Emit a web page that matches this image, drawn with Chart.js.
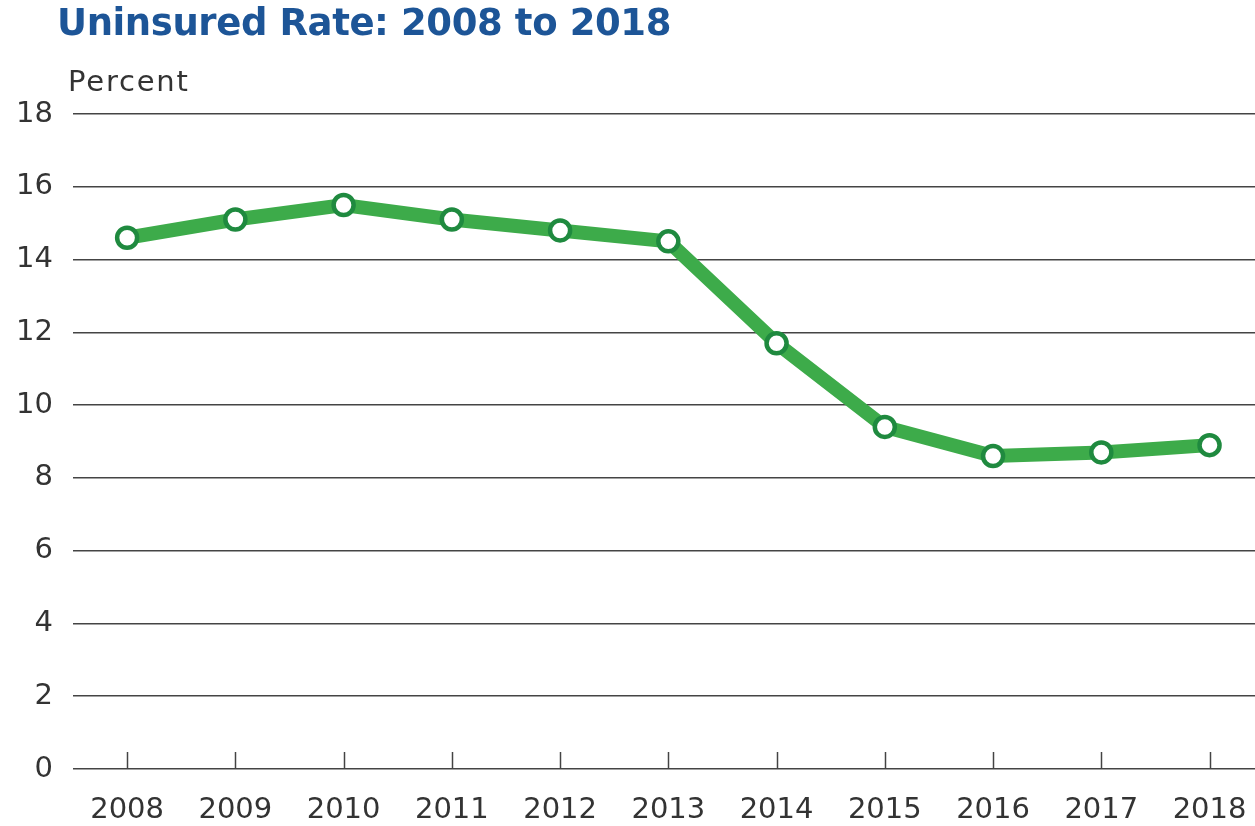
<!DOCTYPE html>
<html>
<head>
<meta charset="utf-8">
<script src="https://cdn.jsdelivr.net/npm/chart.js@4"></script>
<style>
  html, body { margin: 0; padding: 0; background: #fff; }
  #wrap { position: relative; width: 1255px; height: 826px; }
  #title { position: absolute; left: 57px; top: 1px; font-family: "DejaVu Sans", sans-serif; font-weight: 700; font-size: 37px; color: #1d5597; white-space: nowrap; letter-spacing: -0.4px; line-height: normal; }
  #unit { position: absolute; left: 68px; top: 64px; font-family: "DejaVu Sans", sans-serif; font-size: 29px; color: #333; letter-spacing: 1.8px; line-height: normal; }
  canvas { position: absolute; left: 0; top: 0; }
</style>
</head>
<body>
<div id="wrap">
  <canvas id="c" width="1255" height="826"></canvas>
  <div id="title">Uninsured Rate: 2008 to 2018</div>
  <div id="unit">Percent</div>
</div>
<script>
const years = [2008, 2009, 2010, 2011, 2012, 2013, 2014, 2015, 2016, 2017, 2018];
const uninsuredRate = [14.6, 15.1, 15.5, 15.1, 14.8, 14.5, 11.7, 9.4, 8.6, 8.7, 8.9];
const yTicks = [0, 2, 4, 6, 8, 10, 12, 14, 16, 18];

const tickMarks = {
  id: 'tickMarks',
  afterDraw(chart) {
    const x = chart.scales.x, ctx = chart.ctx, b = chart.chartArea.bottom;
    ctx.save();
    ctx.strokeStyle = '#444';
    ctx.lineWidth = 1.5;
    years.forEach(v => {
      const px = Math.round(x.getPixelForValue(v)) + 0.5;
      ctx.beginPath();
      ctx.moveTo(px, b - 17);
      ctx.lineTo(px, b);
      ctx.stroke();
    });
    ctx.restore();
  }
};

new Chart(document.getElementById('c'), {
  type: 'line',
  data: {
    datasets: [{
      data: years.map((y, i) => ({ x: y, y: uninsuredRate[i] })),
      borderColor: '#3dab4a',
      borderWidth: 14,
      tension: 0,
      pointRadius: 10,
      pointBorderWidth: 4.5,
      pointBackgroundColor: '#ffffff',
      pointBorderColor: '#1f8a3f',
      clip: false
    }]
  },
  options: {
    responsive: false,
    animation: false,
    layout: { autoPadding: false, padding: { top: 114, left: 0, right: 0, bottom: 0 } },
    plugins: { legend: { display: false }, tooltip: { enabled: false }, title: { display: false } },
    scales: {
      x: {
        type: 'linear',
        min: 2007.5,
        max: 2018.42,
        afterBuildTicks(s) { s.ticks = years.map(v => ({ value: v })); },
        afterFit(s) { s.height = 57; s.paddingLeft = 0; s.paddingRight = 0; },
        grid: { display: false, drawTicks: false },
        border: { display: false },
        ticks: {
          padding: 24,
          color: '#333',
          font: { family: 'DejaVu Sans', size: 29 },
          maxRotation: 0,
          autoSkip: false,
          callback: v => String(v)
        }
      },
      y: {
        min: 0,
        max: 18,
        afterBuildTicks(s) { s.ticks = yTicks.map(v => ({ value: v })); },
        afterFit(s) { s.width = 73; },
        grid: { color: '#444', lineWidth: 1.5, drawTicks: false },
        border: { display: false },
        ticks: {
          padding: 20,
          color: '#333',
          font: { family: 'DejaVu Sans', size: 29 }
        }
      }
    }
  },
  plugins: [tickMarks]
});
</script>
</body>
</html>
